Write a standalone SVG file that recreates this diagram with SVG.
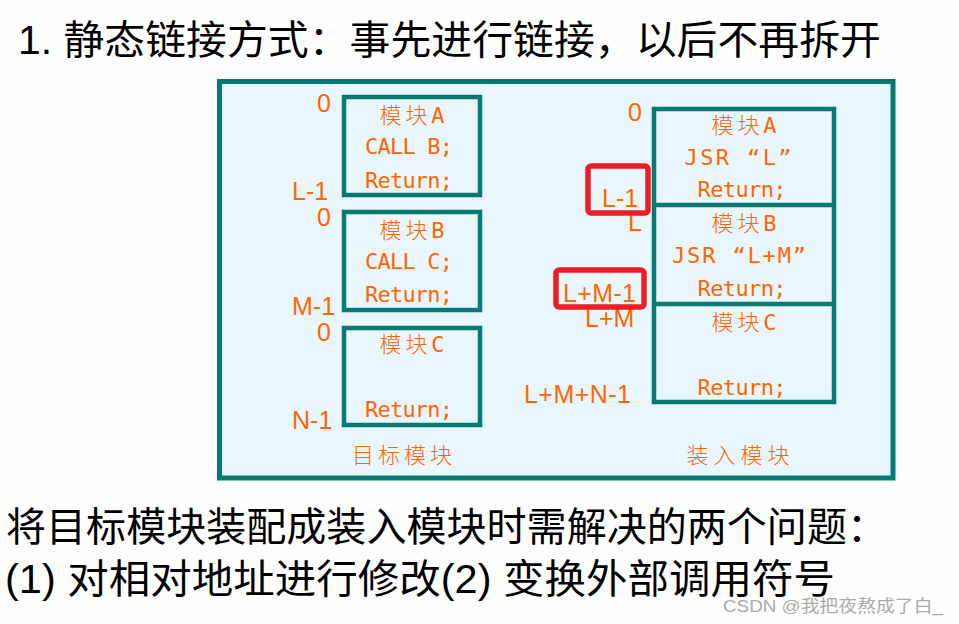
<svg xmlns="http://www.w3.org/2000/svg" width="959" height="624" viewBox="0 0 959 624">
<style>
.bg{fill:#fefefe}
.frame{fill:#eaf6fd;stroke:#057a74;stroke-width:5}
.box{fill:none;stroke:#057a74;stroke-width:4.5}
.div{stroke:#057a74;stroke-width:4.5}
.hl{fill:none;stroke:#ee1d25;stroke-width:5.5}
.m{font-family:"DejaVu Sans Mono","Liberation Mono","Noto Sans CJK SC",monospace;font-size:22px;fill:#ff6600;text-anchor:middle}
.c{font-family:"Noto Sans CJK SC",sans-serif;font-weight:300}
.lbl{font-family:"Liberation Sans",Arial,sans-serif;font-size:25px;fill:#ff6600}
.cap{font-family:"Noto Sans CJK SC",sans-serif;font-size:22px;font-weight:300;fill:#ff6600;text-anchor:middle}
.big{font-family:"Liberation Sans","Noto Sans CJK SC",sans-serif;font-size:40px;fill:#000}
.wm{font-family:"Liberation Sans","Noto Sans CJK SC",sans-serif;font-size:17px;fill:#aaaaaa}
</style>
<rect class="bg" x="0" y="0" width="959" height="624"/>
<text class="big" x="18" y="54" textLength="863" lengthAdjust="spacingAndGlyphs">1. <tspan font-family="Noto Sans CJK SC">静态链接方式：事先进行链接，以后不再拆开</tspan></text>
<g id="frame"><rect class="frame" x="219.5" y="81.5" width="673.5" height="396.5"/></g>
<g id="connectors"></g>
<g id="target-module-A">
<rect class="box" x="344" y="97" width="136" height="98"/>
<text class="m" x="412" y="123" textLength="65"><tspan class="c">模块</tspan>A</text>
<text class="m" x="409" y="154" textLength="88">CALL B;</text>
<text class="m" x="409" y="188" textLength="88">Return;</text>
</g>
<g id="target-module-B">
<rect class="box" x="344" y="212" width="136" height="98"/>
<text class="m" x="412" y="238" textLength="65"><tspan class="c">模块</tspan>B</text>
<text class="m" x="409" y="269" textLength="88">CALL C;</text>
<text class="m" x="409" y="302" textLength="88">Return;</text>
</g>
<g id="target-module-C">
<rect class="box" x="344" y="328" width="136" height="97"/>
<text class="m" x="412" y="352" textLength="65"><tspan class="c">模块</tspan>C</text>
<text class="m" x="409" y="417" textLength="88">Return;</text>
</g>
<g id="target-labels">
<text class="lbl" x="317" y="112">0</text>
<text class="lbl" x="292" y="200">L-1</text>
<text class="lbl" x="317" y="226">0</text>
<text class="lbl" x="292" y="315">M-1</text>
<text class="lbl" x="317" y="341">0</text>
<text class="lbl" x="292" y="429">N-1</text>
<text class="cap" x="402" y="463" textLength="100">目标模块</text>
</g>
<g id="load-module">
<rect class="box" x="654" y="109" width="180" height="293"/>
<line class="div" x1="654" y1="205" x2="834" y2="205"/>
<line class="div" x1="654" y1="304" x2="834" y2="304"/>
<text class="m" x="744" y="133" textLength="65"><tspan class="c">模块</tspan>A</text>
<text class="m" x="738" y="165" textLength="107">JSR “L”</text>
<text class="m" x="742" y="197" textLength="89">Return;</text>
<text class="m" x="744" y="231" textLength="65"><tspan class="c">模块</tspan>B</text>
<text class="m" x="739" y="263" textLength="134">JSR “L+M”</text>
<text class="m" x="742" y="296" textLength="89">Return;</text>
<text class="m" x="744" y="330" textLength="65"><tspan class="c">模块</tspan>C</text>
<text class="m" x="742" y="395" textLength="89">Return;</text>
</g>
<g id="load-labels">
<text class="lbl" x="628" y="121">0</text>
<text class="lbl" x="628" y="231">L</text>
<text class="lbl" x="585" y="327">L+M</text>
<text class="lbl" x="524" y="403" textLength="107">L+M+N-1</text>
<text class="cap" x="738" y="463" textLength="103">装入模块</text>
</g>
<g id="highlight-L-1">
<rect class="hl" x="588" y="166" width="60" height="47" rx="3"/>
<text class="lbl" x="602" y="207">L-1</text>
</g>
<g id="highlight-L-M-1">
<rect class="hl" x="556" y="270" width="88" height="37" rx="3"/>
<text class="lbl" x="563" y="302" textLength="73">L+M-1</text>
</g>
<g id="footer">
<text class="big" x="6" y="541" font-family="Noto Sans CJK SC" textLength="881" lengthAdjust="spacingAndGlyphs">将目标模块装配成装入模块时需解决的两个问题：</text>
<text class="big" x="5" y="593" textLength="830" lengthAdjust="spacingAndGlyphs">(1) <tspan font-family="Noto Sans CJK SC">对相对地址进行修改</tspan>(2) <tspan font-family="Noto Sans CJK SC">变换外部调用符号</tspan></text>
<text class="wm" x="723" y="612" textLength="220" lengthAdjust="spacingAndGlyphs">CSDN @我把夜熬成了白_</text>
</g>
</svg>
